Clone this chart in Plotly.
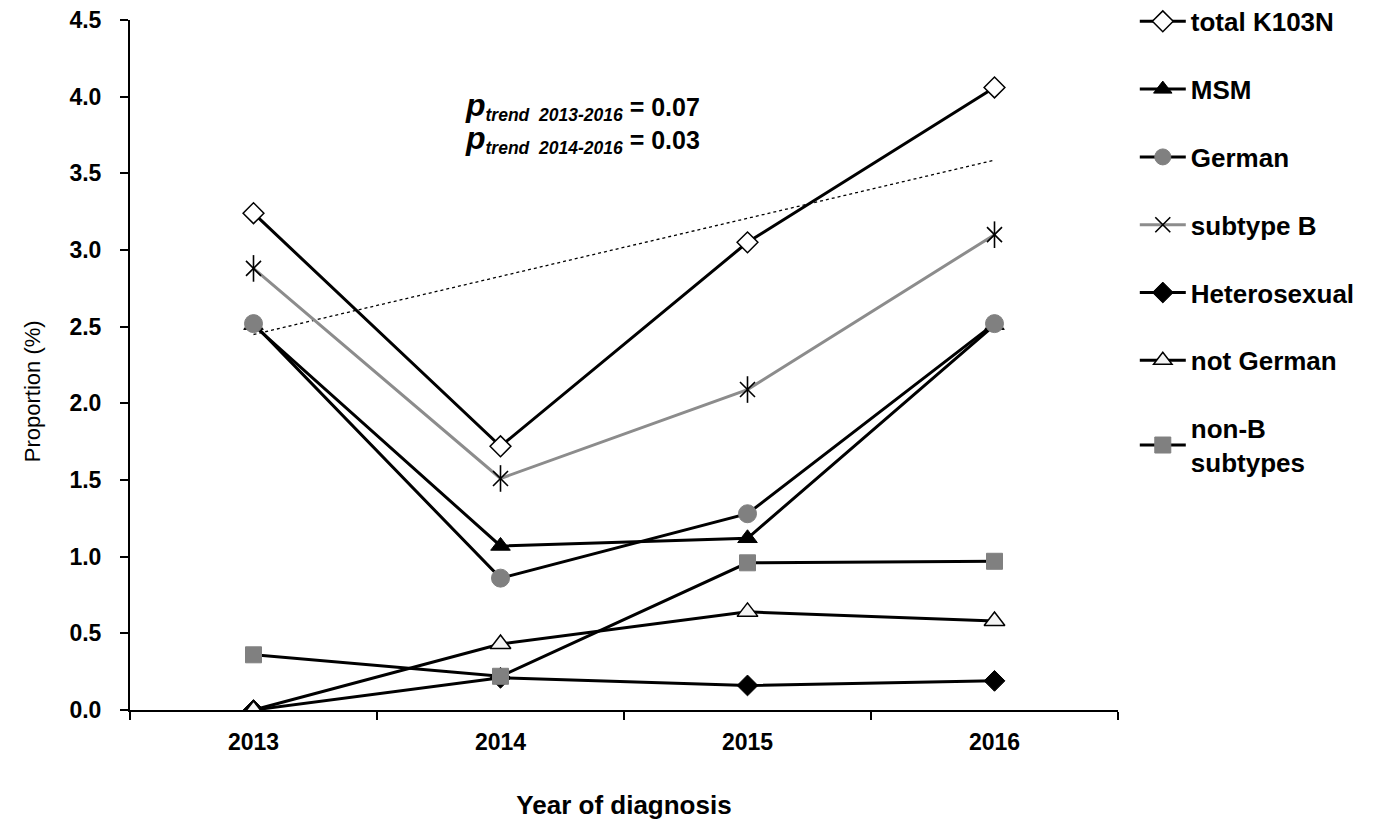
import numpy as np
import plotly.graph_objects as go

years = ["2013", "2014", "2015", "2016"]
total_k103n = [3.24, 1.72, 3.05, 4.06]
msm = [2.51, 1.07, 1.12, 2.51]
german = [2.52, 0.86, 1.28, 2.52]
subtype_b = [2.88, 1.51, 2.09, 3.10]
heterosexual = [0.0, 0.21, 0.16, 0.19]
not_german = [0.0, 0.43, 0.64, 0.58]
non_b = [0.36, 0.22, 0.96, 0.97]

FONT = "Arial, Liberation Sans, sans-serif"
GRAY = "#808080"

fig = go.Figure()

# linear trend of total K103N
xs = np.arange(len(years))
slope, intercept = np.polyfit(xs, total_k103n, 1)
trend = list(intercept + slope * xs)
fig.add_trace(go.Scatter(x=years, y=trend, mode="lines",
                         line=dict(color="black", width=1.3, dash="dot"),
                         showlegend=False, hoverinfo="skip"))

series = [
    ("total K103N", total_k103n, "black", dict(symbol="diamond", size=16, color="white", line=dict(color="black", width=1.5))),
    ("MSM", msm, "black", dict(symbol="triangle-up", size=17, color="black", line=dict(color="black", width=1))),
    ("German", german, "black", dict(symbol="circle", size=18, color=GRAY, line=dict(color=GRAY, width=1))),
    ("subtype B", subtype_b, "#8c8c8c", dict(symbol="x-thin-open", size=15, color="black", line=dict(color="black", width=1.6))),
    ("Heterosexual", heterosexual, "black", dict(symbol="diamond", size=16, color="black", line=dict(color="black", width=1))),
    ("not German", not_german, "black", dict(symbol="triangle-up", size=18, color="#f4f4f4", line=dict(color="black", width=1.5))),
    ("non-B<br>subtypes", non_b, "black", dict(symbol="square", size=16, color=GRAY, line=dict(color=GRAY, width=1))),
]

for name, vals, lc, mk in series:
    fig.add_trace(go.Scatter(x=years, y=vals, mode="lines+markers", name=name,
                             legendgroup=name,
                             line=dict(color=lc, width=3), marker=mk))
    if name == "subtype B":
        # vertical stroke completing the asterisk-like marker
        fig.add_trace(go.Scatter(x=years, y=vals, mode="markers", showlegend=False,
                                 legendgroup=name, hoverinfo="skip",
                                 marker=dict(symbol="line-ns-open", size=19, color="black",
                                             line=dict(color="black", width=1.6))))

fig.add_annotation(
    xref="paper", yref="paper", x=0.337, y=0.906, xanchor="left", yanchor="top",
    align="left", showarrow=False,
    text=("<b><i><span style='font-size:32px'>p</span></i><sub><i>trend  2013-2016</i></sub> = 0.07</b><br>"
          "<b><i><span style='font-size:32px'>p</span></i><sub><i>trend  2014-2016</i></sub> = 0.03</b>"),
    font=dict(family=FONT, size=25, color="black"),
)

# y-axis title (placed as in the reference, slightly below centre)
fig.add_annotation(
    xref="paper", yref="paper", x=-0.0992, y=0.462, xanchor="center", yanchor="middle",
    textangle=-90, showarrow=False, text="Proportion (%)",
    font=dict(family=FONT, size=22, color="black"),
)

fig.update_layout(
    width=1366, height=814,
    paper_bgcolor="white", plot_bgcolor="white",
    margin=dict(l=122, r=256, t=12, b=112, autoexpand=False),
    font=dict(family=FONT, color="black"),
    legend=dict(x=1.017, y=1.032, xanchor="left", yanchor="top",
                font=dict(family=FONT, size=26, color="black", weight="bold"),
                tracegroupgap=31, itemwidth=46, bgcolor="rgba(0,0,0,0)", maxheight=800),
    xaxis=dict(type="category", range=[-0.5, 3.5], showgrid=False, zeroline=False,
               showline=True, linecolor="black", linewidth=2,
               ticks="outside", ticklen=8, tickwidth=1.5, tickcolor="black",
               tickson="boundaries", ticklabelstandoff=10,
               tickfont=dict(family=FONT, size=23, color="black", weight="bold"),
               title=dict(text="<b>Year of diagnosis</b>", standoff=42,
                          font=dict(family=FONT, size=26, color="black"))),
    yaxis=dict(range=[0, 4.5001], tick0=0, dtick=0.5, tickformat=".1f", showgrid=False, zeroline=False,
               showline=True, linecolor="black", linewidth=2,
               ticks="outside", ticklen=8, tickwidth=1.5, tickcolor="black",
               ticklabelstandoff=14, ticklabeloverflow="allow",
               tickfont=dict(family=FONT, size=23, color="black", weight="bold")),
)

fig.write_html("out.html")
